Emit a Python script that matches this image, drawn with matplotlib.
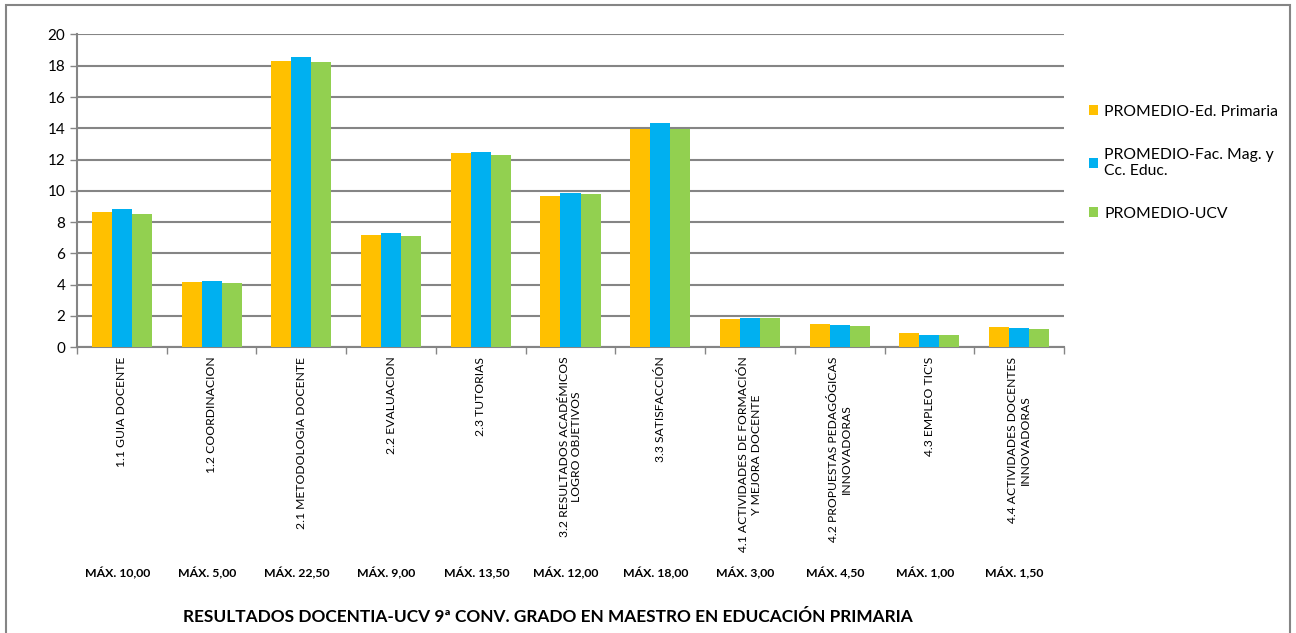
import matplotlib.pyplot as plt
from matplotlib.patches import Rectangle
import numpy as np

categories = [
    "1.1 GUIA DOCENTE",
    "1.2 COORDINACION",
    "2.1 METODOLOGIA DOCENTE",
    "2.2 EVALUACION",
    "2.3 TUTORIAS",
    "3.2 RESULTADOS ACADÉMICOS\nLOGRO OBJETIVOS",
    "3.3 SATISFACCIÓN",
    "4.1 ACTIVIDADES DE FORMACIÓN\nY MEJORA DOCENTE",
    "4.2 PROPUESTAS PEDAGÓGICAS\nINNOVADORAS",
    "4.3 EMPLEO TIC'S",
    "4.4 ACTIVIDADES DOCENTES\nINNOVADORAS",
]
max_labels = ["MÁX. 10,00", "MÁX. 5,00", "MÁX. 22,50", "MÁX. 9,00", "MÁX. 13,50",
              "MÁX. 12,00", "MÁX. 18,00", "MÁX. 3,00", "MÁX. 4,50", "MÁX. 1,00", "MÁX. 1,50"]

ed_primaria = [8.66, 4.16, 18.28, 7.14, 12.39, 9.66, 13.93, 1.79, 1.47, 0.88, 1.28]
fac_mag = [8.83, 4.22, 18.55, 7.27, 12.45, 9.83, 14.31, 1.86, 1.41, 0.79, 1.22]
ucv = [8.49, 4.10, 18.21, 7.08, 12.26, 9.77, 13.93, 1.86, 1.34, 0.79, 1.15]

series_names = ["PROMEDIO-Ed. Primaria", "PROMEDIO-Fac. Mag. y\nCc. Educ.", "PROMEDIO-UCV"]
colors = ["#FFC000", "#00B0F0", "#92D050"]

plt.rcParams['font.family'] = ['Lato', 'DejaVu Sans']

fig = plt.figure(figsize=(12.96, 6.33), dpi=100)
ax = fig.add_axes([0.0594, 0.4518, 0.7616, 0.4937])

x = np.arange(len(categories))
w = 0.223
for i, (vals, name, c) in enumerate(zip([ed_primaria, fac_mag, ucv], series_names, colors)):
    ax.bar(x + (i - 1) * w, vals, width=w, color=c, label=name, zorder=3)

ax.set_xlim(-0.5, len(categories) - 0.5)
ax.set_ylim(0, 20)
ax.set_yticks(range(0, 21, 2))
ax.yaxis.grid(True, color="#858585", linewidth=1.5, zorder=0)
ax.tick_params(axis='y', labelsize=11, length=5, width=1, color="#858585", direction='out')

# category boundaries as ticks, labels at centers
ax.set_xticks(np.arange(-0.5, len(categories), 1.0))
ax.set_xticklabels([])
ax.tick_params(axis='x', length=5, width=1, color="#858585", direction='out')
ax.set_xticks(x, minor=True)
ax.set_xticklabels(categories, minor=True, rotation=90, fontsize=8.7,
                   ha='center', va='top', multialignment='center')
ax.tick_params(axis='x', which='minor', length=0, pad=7)

for s in ['top', 'right']:
    ax.spines[s].set_visible(False)
for s in ['left', 'bottom']:
    ax.spines[s].set_color("#858585")
    ax.spines[s].set_linewidth(1.5)

for xi, lab in zip(x, max_labels):
    ax.text(xi - 0.05, -14.45, lab, ha='center', va='center', fontsize=8.8,
            fontweight='bold', transform=ax.transData)

fig.text(0.423, 0.025, "RESULTADOS DOCENTIA-UCV 9ª CONV. GRADO EN MAESTRO EN EDUCACIÓN PRIMARIA",
         ha='center', va='center', fontsize=12.4, fontweight='bold')

leg = fig.legend(loc='upper left', bbox_to_anchor=(0.829, 0.857), frameon=False,
                 fontsize=11.3, handlelength=0.6, handleheight=0.6, handletextpad=0.4,
                 labelspacing=1.85)

fig.patches.append(Rectangle((0.005, -0.05), 0.99, 1.042, transform=fig.transFigure,
                             fill=False, edgecolor="#858585", linewidth=1.5))

fig.savefig("out.png", dpi=100)
